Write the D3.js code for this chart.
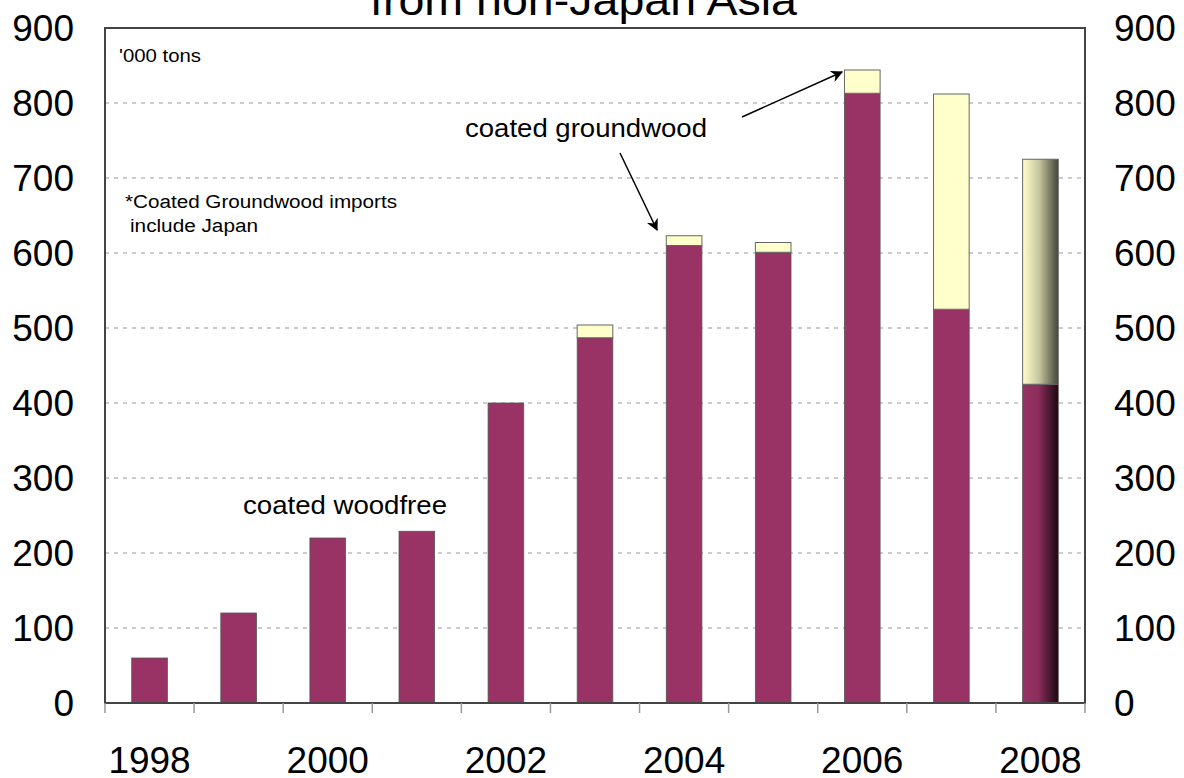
<!DOCTYPE html>
<html><head><meta charset="utf-8">
<script src="https://cdn.jsdelivr.net/npm/d3@7"></script>
<style>body{margin:0;background:#fff}svg{display:block;font-family:"Liberation Sans",Arial,sans-serif}</style>
</head><body><svg id="c" width="1184" height="778"></svg>
<script>
const years = [1998,1999,2000,2001,2002,2003,2004,2005,2006,2007,2008];
const woodfree = [60,120,220,229,400,487,610,601,813,525,425];
const groundwood = [0,0,0,0,0,17,13,13,31,287,300];
const yTicks = [0,100,200,300,400,500,600,700,800,900];
const xLabels = [1998,2000,2002,2004,2006,2008];

const svg = d3.select("#c");
const L=105, R=1085, T=28, B=703;
const x = d3.scaleBand().domain(years).range([L,R]).paddingInner(0.6).paddingOuter(0.3);
const xb = d3.scaleBand().domain(years).range([L,R]);
const y = d3.scaleLinear().domain([0,900]).range([B,T]);

const defs = svg.append("defs");
const g1 = defs.append("linearGradient").attr("id","gp");
g1.append("stop").attr("offset","0%").attr("stop-color","#993366");
g1.append("stop").attr("offset","45%").attr("stop-color","#8a2d5c");
g1.append("stop").attr("offset","100%").attr("stop-color","#1a0810");
const g2 = defs.append("linearGradient").attr("id","gy");
g2.append("stop").attr("offset","0%").attr("stop-color","#ffffcc");
g2.append("stop").attr("offset","45%").attr("stop-color","#c8c8a0");
g2.append("stop").attr("offset","100%").attr("stop-color","#44443a");
const mk = defs.append("marker").attr("id","ar").attr("viewBox","0 0 10 10").attr("refX",9).attr("refY",5)
  .attr("markerWidth",8).attr("markerHeight",8).attr("orient","auto");
mk.append("path").attr("d","M0,0L10,5L0,10L3,5Z").attr("fill","#000");

// gridlines
svg.append("g").selectAll("line").data(yTicks.filter(d=>d>0&&d<900)).join("line")
  .attr("x1",L).attr("x2",R).attr("y1",d=>y(d)).attr("y2",d=>y(d))
  .attr("stroke","#999").attr("stroke-dasharray","4,5").attr("stroke-width",1);

// bars
const last = years[years.length-1];
svg.append("g").selectAll("rect").data(years).join("rect")
  .attr("x",d=>x(d)).attr("width",x.bandwidth())
  .attr("y",(d,i)=>y(woodfree[i])).attr("height",(d,i)=>B-y(woodfree[i]))
  .attr("fill",d=>d===last?"url(#gp)":"#993366").attr("stroke","#555").attr("stroke-width",0.8);
svg.append("g").selectAll("rect").data(years.filter((d,i)=>groundwood[i]>0)).join("rect")
  .attr("x",d=>x(d)).attr("width",x.bandwidth())
  .attr("y",d=>{const i=years.indexOf(d);return y(woodfree[i]+groundwood[i]);})
  .attr("height",d=>{const i=years.indexOf(d);return y(woodfree[i])-y(woodfree[i]+groundwood[i]);})
  .attr("fill",d=>d===last?"url(#gy)":"#ffffcc").attr("stroke","#666").attr("stroke-width",1);

// frame
svg.append("rect").attr("x",L).attr("y",T).attr("width",R-L).attr("height",B-T)
  .attr("fill","none").attr("stroke","#444").attr("stroke-width",2);

// x ticks
svg.append("g").selectAll("line").data(years.concat(["end"])).join("line")
  .attr("x1",d=>d==="end"?R:xb(d)).attr("x2",d=>d==="end"?R:xb(d))
  .attr("y1",B).attr("y2",B+10).attr("stroke","#999").attr("stroke-width",1.5);

// axis labels
svg.append("g").selectAll("text").data(yTicks).join("text")
  .attr("x",74).attr("y",d=>y(d)+13).attr("text-anchor","end").attr("font-size",37).text(d=>d);
svg.append("g").selectAll("text").data(yTicks).join("text")
  .attr("x",1114).attr("y",d=>y(d)+13).attr("text-anchor","start").attr("font-size",37).text(d=>d);
svg.append("g").selectAll("text").data(xLabels).join("text")
  .attr("x",d=>x(d)+x.bandwidth()/2).attr("y",773).attr("text-anchor","middle").attr("font-size",37).text(d=>d);

// title
svg.append("text").attr("x",370).attr("y",15).attr("font-size",42)
  .attr("textLength",427).attr("lengthAdjust","spacingAndGlyphs").text("from non-Japan Asia");

// annotations
svg.append("text").attr("x",119).attr("y",62).attr("font-size",18)
  .attr("textLength",82).attr("lengthAdjust","spacingAndGlyphs").text("'000 tons");
svg.append("text").attr("x",125).attr("y",208).attr("font-size",18)
  .attr("textLength",272).attr("lengthAdjust","spacingAndGlyphs").text("*Coated Groundwood imports");
svg.append("text").attr("x",130).attr("y",232).attr("font-size",18)
  .attr("textLength",128).attr("lengthAdjust","spacingAndGlyphs").text("include Japan");
svg.append("text").attr("x",465).attr("y",137).attr("font-size",26)
  .attr("textLength",242).attr("lengthAdjust","spacingAndGlyphs").text("coated groundwood");
svg.append("text").attr("x",243).attr("y",514).attr("font-size",26)
  .attr("textLength",204).attr("lengthAdjust","spacingAndGlyphs").text("coated woodfree");

svg.append("line").attr("x1",620).attr("y1",153).attr("x2",657).attr("y2",230)
  .attr("stroke","#000").attr("stroke-width",1.5).attr("marker-end","url(#ar)");
svg.append("line").attr("x1",742).attr("y1",117).attr("x2",842).attr("y2",72)
  .attr("stroke","#000").attr("stroke-width",1.5).attr("marker-end","url(#ar)");
</script></body></html>
